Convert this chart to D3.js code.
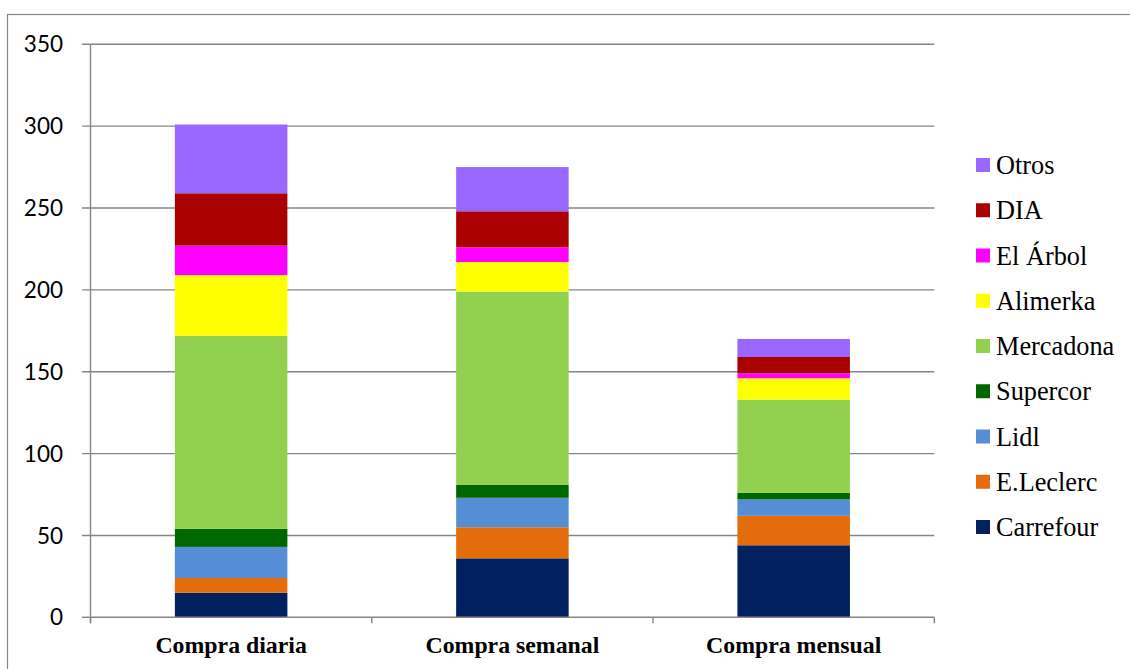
<!DOCTYPE html>
<html>
<head>
<meta charset="utf-8">
<script src="https://cdn.jsdelivr.net/npm/d3@7/dist/d3.min.js"></script>
<style>
  html, body { margin: 0; padding: 0; background: #fff; }
  svg { display: block; }
</style>
</head>
<body>
<svg id="chart" width="1130" height="669"></svg>
<script>
// Purchase frequency categories
const categories = ["Compra diaria", "Compra semanal", "Compra mensual"];

// Supermarket chains, stacked bottom to top
const series = ["Carrefour", "E.Leclerc", "Lidl", "Supercor", "Mercadona", "Alimerka", "El Árbol", "DIA", "Otros"];

// Responses per chain for each category (diaria, semanal, mensual)
const carrefour = [15, 36, 44];
const eleclerc  = [9, 19, 18];
const lidl      = [19, 18, 10];
const supercor  = [11, 8, 4];
const mercadona = [118, 118, 57];
const alimerka  = [37, 18, 13];
const elarbol   = [18, 9, 3];
const dia       = [32, 22, 10];
const otros     = [42, 27, 11];

const yTicks = [0, 50, 100, 150, 200, 250, 300, 350];

const colors = ["#002060", "#E46C0A", "#558ED5", "#006600", "#92D050", "#FFFF00", "#FF00FF", "#AA0000", "#9966FF"];

const valuesBySeries = [carrefour, eleclerc, lidl, supercor, mercadona, alimerka, elarbol, dia, otros];
const rows = categories.map((c, i) => {
  const r = { category: c };
  series.forEach((s, j) => { r[s] = valuesBySeries[j][i]; });
  return r;
});

const svg = d3.select("#chart");
const gridColor = "#868686";

// Outer frame
svg.append("rect")
  .attr("x", 7.5).attr("y", 14.5)
  .attr("width", 1140).attr("height", 680)
  .attr("fill", "none").attr("stroke", gridColor).attr("stroke-width", 1.2);

const plotLeft = 90.5, plotRight = 934.3, plotTop = 44.3, plotBottom = 617.3;

const x = d3.scaleBand().domain(categories).range([plotLeft, plotRight])
  .paddingInner(0.6).paddingOuter(0.3);
const y = d3.scaleLinear().domain([0, 350]).range([plotBottom, plotTop]);

// Horizontal gridlines with left tick stubs
svg.append("g").selectAll("line").data(yTicks.filter(t => t > 0)).join("line")
  .attr("x1", plotLeft - 8.5).attr("x2", plotRight)
  .attr("y1", d => y(d)).attr("y2", d => y(d))
  .attr("stroke", gridColor).attr("stroke-width", 1.4);

// Stacked bars
const stack = d3.stack().keys(series)(rows);
svg.append("g").selectAll("g").data(stack).join("g")
  .attr("fill", (d, i) => colors[i])
  .selectAll("rect").data(d => d).join("rect")
  .attr("x", d => x(d.data.category))
  .attr("width", x.bandwidth())
  .attr("y", d => y(d[1]))
  .attr("height", d => y(d[0]) - y(d[1]));

// Y axis
const yAxis = svg.append("g");
yAxis.append("line")
  .attr("x1", plotLeft).attr("x2", plotLeft).attr("y1", plotTop).attr("y2", plotBottom + 6)
  .attr("stroke", gridColor).attr("stroke-width", 1.4);
yAxis.append("line")
  .attr("x1", plotLeft - 8.5).attr("x2", plotLeft).attr("y1", plotBottom).attr("y2", plotBottom)
  .attr("stroke", gridColor).attr("stroke-width", 1.4);
yAxis.selectAll("text").data(yTicks).join("text")
  .attr("x", 63).attr("y", d => y(d))
  .attr("dy", "0.36em")
  .attr("text-anchor", "end")
  .attr("font-family", "Lato, 'Open Sans', sans-serif")
  .attr("font-size", 22.5)
  .attr("fill", "#000")
  .text(d => d);

// X axis with boundary ticks
const xAxis = svg.append("g");
xAxis.append("line")
  .attr("x1", plotLeft).attr("x2", plotRight).attr("y1", plotBottom).attr("y2", plotBottom)
  .attr("stroke", gridColor).attr("stroke-width", 1.4);
const step = x.step();
const boundaries = d3.range(categories.length + 1).map(i => plotLeft + i * step);
xAxis.selectAll("line.tick").data(boundaries).join("line")
  .attr("class", "tick")
  .attr("x1", d => d).attr("x2", d => d)
  .attr("y1", plotBottom).attr("y2", plotBottom + 6)
  .attr("stroke", gridColor).attr("stroke-width", 1.4);
xAxis.selectAll("text").data(categories).join("text")
  .attr("x", d => x(d) + x.bandwidth() / 2)
  .attr("y", 653)
  .attr("text-anchor", "middle")
  .attr("font-family", "'Liberation Serif', 'Times New Roman', serif")
  .attr("font-weight", "bold")
  .attr("font-size", 23.8)
  .attr("fill", "#000")
  .text(d => d);

// Legend, listed top to bottom in reverse stacking order
const legendOrder = series.map((s, i) => ({ name: s, color: colors[i] })).reverse();
const legend = svg.append("g");
const legendItem = legend.selectAll("g").data(legendOrder).join("g")
  .attr("transform", (d, i) => `translate(976, ${165 + i * 45.25})`);
legendItem.append("rect")
  .attr("x", 0).attr("y", -7).attr("width", 14).attr("height", 14)
  .attr("fill", d => d.color);
legendItem.append("text")
  .attr("x", 20).attr("y", 9)
  .attr("font-family", "'Liberation Serif', 'Times New Roman', serif")
  .attr("font-size", 26.3)
  .attr("fill", "#000")
  .text(d => d.name);
</script>
</body>
</html>
